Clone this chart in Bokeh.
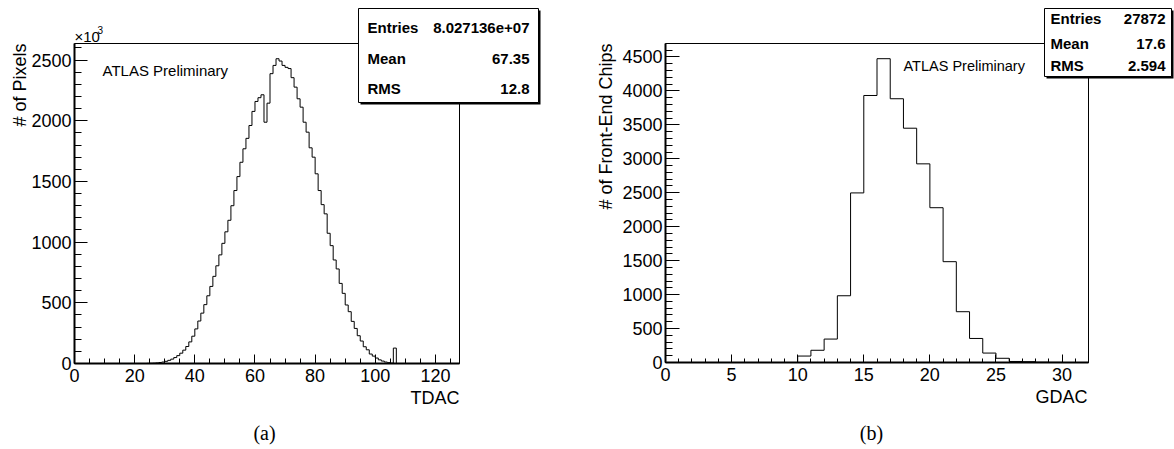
import numpy as np
from bokeh.plotting import figure
from bokeh.layouts import row
from bokeh.models import Label, BoxAnnotation, SingleIntervalTicker, Range1d
from bokeh.embed import file_html
from bokeh.resources import INLINE

# ---- data -------------------------------------------------------------
# TDAC distribution per pixel, 128 bins of width 1, counts in units of 10^3
tdac_counts = [0] * 24 + [
    1, 2, 3, 5, 8, 12, 18, 26, 36, 49,                      # 24-33
    65, 85, 110, 140, 178, 225, 285, 350, 415, 485,         # 34-43
    558, 635, 718, 805, 895, 990, 1085, 1180, 1300, 1425,   # 44-53
    1540, 1658, 1769, 1855, 1961, 2077, 2159, 2190, 2214, 1988,  # 54-63
    2145, 2388, 2456, 2511, 2492, 2456, 2440, 2430, 2355, 2277,  # 64-73
    2181, 2112, 1988, 1906, 1777, 1700, 1563, 1425, 1309, 1233,  # 74-83
    1073, 971, 853, 779, 660, 578, 482, 427, 347, 289,      # 84-93
    229, 185, 138, 113, 78, 61, 45, 30, 20, 12,             # 94-103
    7, 3, 127,                                              # 104-106
] + [0] * 21

# GDAC distribution per front-end chip, 32 bins of width 1
gdac_counts = [0] * 10 + [
    95, 180, 345, 983, 2498, 3933, 4475, 3885, 3451, 2926,  # 10-19
    2280, 1485, 748, 354, 139, 62, 15, 12, 4, 2,            # 20-29
] + [0] * 2

tdac_stats = [("Entries", "8.027136e+07"), ("Mean", "67.35"), ("RMS", "12.8")]
gdac_stats = [("Entries", "27872"), ("Mean", "17.6"), ("RMS", "2.594")]

SANS = "Liberation Sans"
SERIF = "Liberation Serif"
PAGE_H = 449


def make_mapper(x0, y0, w, h, xmax, ymax):
    """Map page pixel coordinates onto the data space of a histogram frame."""
    def to_data(px, py):
        return (px - x0) / w * xmax, (y0 + h - py) / h * ymax
    return to_data


def hist_figure(counts, width, frame_left, frame_top, frame_w, frame_h,
                x_interval, x_minor, x_major_len, x_minor_len,
                y_major_len, y_minor_len):
    """The plotting area spans the whole canvas; the histogram frame sits
    inside it, with the axes pinned to x=0 / y=0 and bounded to the frame."""
    n = len(counts)
    ymax = 1.05 * max(counts)
    sx = frame_w / n
    sy = frame_h / ymax
    frame_bottom = frame_top + frame_h
    x_range = Range1d(-frame_left / sx, (width - frame_left) / sx)
    y_range = Range1d(-(PAGE_H - frame_bottom) / sy, frame_bottom / sy)
    p = figure(width=width, height=PAGE_H, output_backend="svg", toolbar_location=None,
               x_range=x_range, y_range=y_range, min_border=0,
               min_border_left=0, min_border_right=0,
               min_border_top=0, min_border_bottom=0)
    p.background_fill_color = "white"
    p.border_fill_color = "white"
    p.outline_line_color = None
    p.xgrid.visible = False
    p.ygrid.visible = False

    p.xaxis.ticker = SingleIntervalTicker(interval=x_interval, num_minor_ticks=x_minor)
    p.yaxis.ticker = SingleIntervalTicker(interval=500, num_minor_ticks=5)
    p.xaxis.bounds = (0, n)
    p.yaxis.bounds = (0, ymax)
    p.xaxis.fixed_location = 0
    p.yaxis.fixed_location = 0
    for ax, maj, mnr in ((p.xaxis, x_major_len, x_minor_len), (p.yaxis, y_major_len, y_minor_len)):
        ax.major_tick_in = maj
        ax.major_tick_out = 0
        ax.minor_tick_in = mnr
        ax.minor_tick_out = 0
        ax.major_tick_line_color = "black"
        ax.minor_tick_line_color = "black"
        ax.axis_line_color = "black"
        ax.axis_line_width = 2
        ax.major_label_text_font = SANS
        ax.major_label_text_font_size = "18px"
        ax.major_label_text_color = "black"
    p.xaxis.major_label_standoff = 5
    p.yaxis.major_label_standoff = 3

    # top and right edges of the histogram frame
    p.add_layout(BoxAnnotation(left=0, right=n, bottom=0, top=ymax,
                               fill_alpha=0.0, line_color="black",
                               line_alpha=1.0, line_width=1))

    edges = np.arange(n + 1)
    ys = list(counts) + [counts[-1]]
    p.step(edges, ys, mode="after", line_color="black", line_width=1)
    return p, ymax


def text(p, x, y, s, size, align="left", baseline="middle", font=SANS,
         style="normal", angle=0.0):
    p.add_layout(Label(x=x, y=y, text=s, text_font=font, text_font_size=size,
                       text_font_style=style, text_align=align,
                       text_baseline=baseline, text_color="black", angle=angle))


def stats_box(p, to_data, box, rows, row_ys, pad_l, pad_r, size):
    l, t, r, b = box
    sl, st = to_data(l + 2, t + 2)
    sr, sb = to_data(r + 2, b + 2)
    p.add_layout(BoxAnnotation(left=sl, right=sr, top=st, bottom=sb,
                               fill_color="black", fill_alpha=1.0, line_alpha=0.0))
    bl, bt = to_data(l, t)
    br, bb = to_data(r, b)
    p.add_layout(BoxAnnotation(left=bl, right=br, top=bt, bottom=bb,
                               fill_color="white", fill_alpha=1.0,
                               line_color="black", line_alpha=1.0, line_width=1))
    for (name, val), ry in zip(rows, row_ys):
        x1, y1 = to_data(l + pad_l, ry)
        text(p, x1, y1, name, size, style="bold")
        x2, _ = to_data(r - pad_r, ry)
        text(p, x2, y1, val, size, align="right", style="bold")


# ---- (a) TDAC ---------------------------------------------------------
pa, ya = hist_figure(tdac_counts, 587, 74, 43, 385, 320,
                     x_interval=20, x_minor=4, x_major_len=9, x_minor_len=5,
                     y_major_len=13, y_minor_len=7)
ma = make_mapper(74, 43, 385, 320, len(tdac_counts), ya)

x, y = ma(74, 36)
text(pa, x, y, "×10", "15px")
x, y = ma(97, 29)
text(pa, x, y, "3", "10px")
x, y = ma(19, 43)
text(pa, x, y, "# of Pixels", "18px", align="right", angle=np.pi / 2)
x, y = ma(459, 397)
text(pa, x, y, "TDAC", "18px", align="right")
x, y = ma(102, 70)
text(pa, x, y, "ATLAS Preliminary", "15px")
x, y = ma(264, 432)
text(pa, x, y, "(a)", "20px", align="center", font=SERIF)
stats_box(pa, ma, (358, 8, 538, 102), tdac_stats, (27, 58, 88), 9, 9, "15px")

# ---- (b) GDAC ---------------------------------------------------------
pb, yb = hist_figure(gdac_counts, 587, 78, 43, 423, 319,
                     x_interval=5, x_minor=5, x_major_len=8, x_minor_len=4,
                     y_major_len=14, y_minor_len=7)
mb = make_mapper(587 + 78, 43, 423, 319, len(gdac_counts), yb)

x, y = mb(605, 43)
text(pb, x, y, "# of Front-End Chips", "18px", align="right", angle=np.pi / 2)
x, y = mb(1087, 396)
text(pb, x, y, "GDAC", "18px", align="right")
x, y = mb(903, 65)
text(pb, x, y, "ATLAS Preliminary", "14.5px")
x, y = mb(871, 432)
text(pb, x, y, "(b)", "20px", align="center", font=SERIF)
stats_box(pb, mb, (1044, 8, 1171, 76), gdac_stats, (18, 43, 65), 6, 6, "15px")

layout = row(pa, pb, spacing=0)
open("out.html", "w").write(file_html(layout, INLINE))
